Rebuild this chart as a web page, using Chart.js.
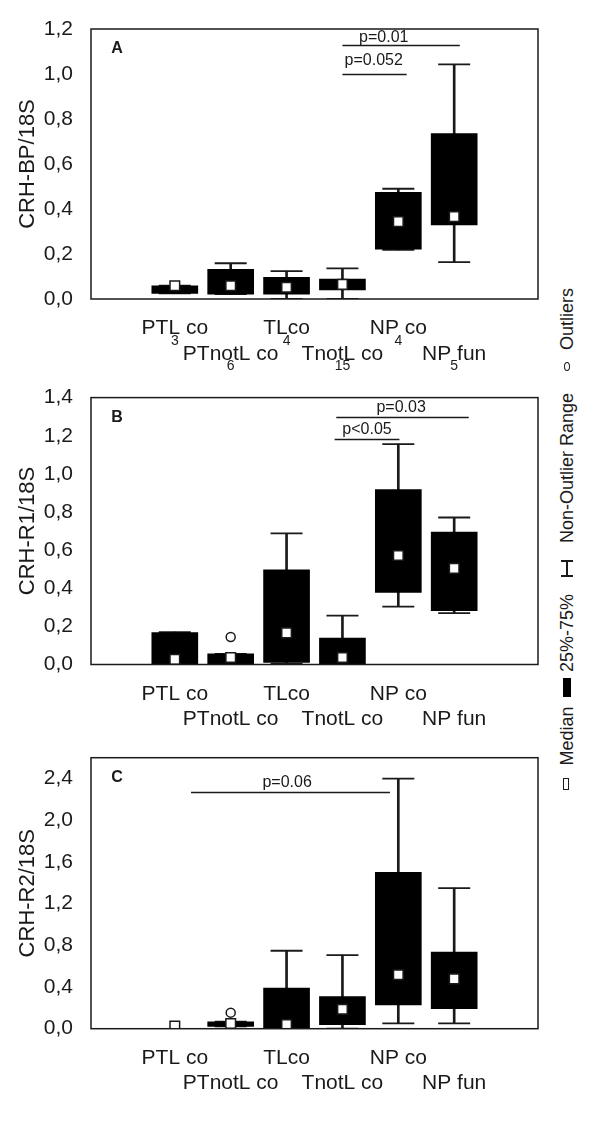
<!DOCTYPE html>
<html><head><meta charset="utf-8">
<script src="https://cdn.jsdelivr.net/npm/chart.js@4.4.1/dist/chart.umd.min.js"></script>
<style>
body{margin:0;background:#fff;width:600px;height:1136px;position:relative;overflow:hidden;font-family:"Liberation Sans",Arial,sans-serif}
canvas{position:absolute;left:0}
.lg{position:absolute;transform:translate(-50%,-50%) rotate(-90deg);white-space:nowrap;font-size:18px;color:#1a1a1a;line-height:1}
.ic{position:absolute;box-sizing:border-box}
</style></head><body>
<canvas id="cA" width="550" height="375" style="top:0px"></canvas>
<canvas id="cB" width="550" height="355" style="top:375px"></canvas>
<canvas id="cC" width="550" height="370" style="top:735px"></canvas>

<div class="lg" style="left:567px;top:319px">Outliers</div>
<div class="ic" style="left:564px;top:362px;width:6px;height:9px;border:1.5px solid #1a1a1a;border-radius:50%"></div>
<div class="lg" style="left:567px;top:468px">Non-Outlier Range</div>
<div class="ic" style="left:561px;top:560px;width:12px;height:2px;background:#1a1a1a"></div>
<div class="ic" style="left:566px;top:560px;width:2px;height:17px;background:#1a1a1a"></div>
<div class="ic" style="left:561px;top:575px;width:12px;height:2px;background:#1a1a1a"></div>
<div class="lg" style="left:567px;top:633px">25%-75%</div>
<div class="ic" style="left:563px;top:678px;width:8px;height:19px;background:#000"></div>
<div class="lg" style="left:567px;top:736px">Median</div>
<div class="ic" style="left:563px;top:778px;width:6px;height:12px;border:1.5px solid #1a1a1a;background:#fff"></div>

<script>
// ---------- data ----------
const categories = ['', 'PTL co', 'PTnotL co', 'TLco', 'TnotL co', 'NP co', 'NP fun', ''];
const sampleSizesA = ['', '3', '6', '4', '15', '4', '5', ''];
const yTicksA = [0, 0.2, 0.4, 0.6, 0.8, 1.0, 1.2];
const yTicksB = [0, 0.2, 0.4, 0.6, 0.8, 1.0, 1.2, 1.4];
const yTicksC = [0, 0.4, 0.8, 1.2, 1.6, 2.0, 2.4];

// Panel A : CRH-BP/18S
const aQ1  = [null, 0.025, 0.022, 0.021, 0.040, 0.222, 0.329, null];
const aQ3  = [null, 0.059, 0.132, 0.096, 0.089, 0.474, 0.735, null];
const aMed = [null, 0.059, 0.059, 0.052, 0.065, 0.344, 0.366, null];
const aMin = [null, 0.025, 0.022, 0.000, 0.000, 0.218, 0.164, null];
const aMax = [null, 0.059, 0.159, 0.124, 0.136, 0.490, 1.043, null];
const aOut = [null, null, null, null, null, null, null, null];
const aSigText = ['p=0.01', 'p=0.052'];
const aSigFrom = [4.0, 4.0];
const aSigTo   = [6.1, 5.15];
const aSigY    = [1.129, 0.999];
const aSigTx   = [4.74, 4.56];
const aSigTy   = [1.164, 1.058];

// Panel B : CRH-R1/18S
const bQ1  = [null, 0.000, 0.000, 0.011, 0.000, 0.378, 0.282, null];
const bQ3  = [null, 0.168, 0.056, 0.497, 0.138, 0.917, 0.695, null];
const bMed = [null, 0.027, 0.037, 0.166, 0.037, 0.572, 0.504, null];
const bMin = [null, 0.000, 0.000, 0.005, 0.000, 0.304, 0.270, null];
const bMax = [null, 0.170, 0.056, 0.688, 0.256, 1.156, 0.771, null];
const bOut = [null, null, 0.144, null, null, null, null, null];
const bSigText = ['p=0.03', 'p<0.05'];
const bSigFrom = [3.89, 3.86];
const bSigTo   = [6.26, 5.02];
const bSigY    = [1.30, 1.185];
const bSigTx   = [5.05, 4.44];
const bSigTy   = [1.348, 1.232];

// Panel C : CRH-R2/18S
const cQ1  = [null, null, 0.023, 0.000, 0.038, 0.228, 0.193, null];
const cQ3  = [null, null, 0.067, 0.389, 0.308, 1.501, 0.735, null];
const cMed = [null, 0.025, 0.050, 0.040, 0.187, 0.517, 0.478, null];
const cMin = [null, null, 0.023, 0.000, 0.000, 0.052, 0.052, null];
const cMax = [null, null, 0.067, 0.748, 0.706, 2.400, 1.348, null];
const cOut = [null, null, 0.154, null, null, null, null, null];
const cSigText = ['p=0.06'];
const cSigFrom = [1.29];
const cSigTo   = [4.85];
const cSigY    = [2.275];
const cSigTx   = [3.01];
const cSigTy   = [2.365];

// ---------- rendering ----------
const INK = '#1a1a1a';
const FONT = '"Liberation Sans", Arial, sans-serif';

const decorPlugin = {
  id: 'decor',
  afterDraw(chart, args, o) {
    const {ctx, chartArea: ca, scales} = chart;
    const x = scales.x, y = scales.y;
    ctx.save();
    ctx.strokeStyle = INK; ctx.lineWidth = 1.5;
    ctx.strokeRect(ca.left, ca.top, ca.right - ca.left, ca.bottom - ca.top);
    ctx.fillStyle = INK;
    ctx.font = 'bold 16px ' + FONT;
    ctx.textAlign = 'center'; ctx.textBaseline = 'middle';
    ctx.fillText(o.letter, ca.left + 26, ca.top + 20);
    ctx.font = '16px ' + FONT;
    ctx.lineWidth = 1.5;
    for (let i = 0; i < o.sigText.length; i++) {
      const yy = Math.round(y.getPixelForValue(o.sigY[i])) + 0.5;
      ctx.beginPath();
      ctx.moveTo(x.getPixelForValue(o.sigFrom[i]), yy);
      ctx.lineTo(x.getPixelForValue(o.sigTo[i]), yy);
      ctx.stroke();
      ctx.fillText(o.sigText[i], x.getPixelForValue(o.sigTx[i]), y.getPixelForValue(o.sigTy[i]));
    }
    if (o.sizes) {
      ctx.font = '14px ' + FONT;
      for (let i = 0; i < o.sizes.length; i++) {
        if (!o.sizes[i]) continue;
        const row = (i % 2 === 1) ? 42 : 67;
        ctx.fillText(o.sizes[i], x.getPixelForValue(i), ca.bottom + row);
      }
    }
    ctx.restore();
  }
};

function makePanel(id, cfg) {
  const boxes = cfg.q1.map((v, i) => v === null ? null : [v, cfg.q3[i]]);
  const whisk = cfg.min.map((v, i) => v === null ? null : [v, cfg.max[i]]);
  const canvas = document.getElementById(id);
  return new Chart(canvas, {
    type: 'bar',
    data: {
      labels: cfg.labels,
      datasets: [
        {type: 'line', data: cfg.med, showLine: false, pointStyle: 'rect', pointRadius: 6.8,
         pointBackgroundColor: '#fff', pointBorderColor: INK, pointBorderWidth: 1.5, order: 0},
        {type: 'line', data: cfg.out, showLine: false, pointStyle: 'circle', pointRadius: 4.5,
         pointBackgroundColor: '#fff', pointBorderColor: INK, pointBorderWidth: 1.5, order: 0},
        {type: 'bar', data: boxes, backgroundColor: '#000', borderWidth: 0, barThickness: 46,
         grouped: false, order: 1},
        {type: 'line', data: cfg.max, showLine: false, pointStyle: 'line', pointRadius: 16,
         pointBorderColor: INK, pointBorderWidth: 1.8, order: 2},
        {type: 'line', data: cfg.min, showLine: false, pointStyle: 'line', pointRadius: 16,
         pointBorderColor: INK, pointBorderWidth: 1.8, order: 2},
        {type: 'bar', data: whisk, backgroundColor: INK, borderWidth: 0, barThickness: 2,
         grouped: false, order: 3}
      ]
    },
    options: {
      responsive: false, animation: false,
      layout: {autoPadding: false, padding: {top: cfg.padTop, right: 12, left: 0, bottom: 0}},
      plugins: {
        legend: {display: false}, tooltip: {enabled: false},
        decor: {letter: cfg.letter, sigText: cfg.sigText, sigFrom: cfg.sigFrom, sigTo: cfg.sigTo,
                sigY: cfg.sigY, sigTx: cfg.sigTx, sigTy: cfg.sigTy, sizes: cfg.sizes}
      },
      scales: {
        x: {
          type: 'category', offset: true,
          grid: {display: false}, border: {display: false},
          ticks: {autoSkip: false, maxRotation: 0, minRotation: 0, padding: 9, color: INK,
                  font: {family: FONT, size: 21, lineHeight: 1.2},
                  callback: function(v, i) { const l = cfg.labels[i]; return (i % 2 === 0 && l) ? ['', l] : l; }},
          afterFit: s => { s.height = cfg.xHeight; }
        },
        y: {
          min: 0, max: cfg.yMax,
          grid: {display: false}, border: {display: false},
          ticks: {padding: 10, color: INK, font: {family: FONT, size: 21},
                  callback: v => v.toFixed(1).replace('.', ',')},
          afterBuildTicks: s => { s.ticks = cfg.yTicks.map(v => ({value: v})); },
          title: {display: true, text: cfg.yTitle, color: INK, font: {family: FONT, size: 22},
                  padding: {top: 14.5, bottom: 0}},
          afterFit: s => { s.width = 91; }
        }
      }
    },
    plugins: [decorPlugin]
  });
}

makePanel('cA', {labels: categories, q1: aQ1, q3: aQ3, med: aMed, min: aMin, max: aMax, out: aOut,
  letter: 'A', sigText: aSigText, sigFrom: aSigFrom, sigTo: aSigTo, sigY: aSigY, sigTx: aSigTx, sigTy: aSigTy,
  sizes: sampleSizesA, yMax: 1.2, yTicks: yTicksA, yTitle: 'CRH-BP/18S', padTop: 29, xHeight: 76});
makePanel('cB', {labels: categories, q1: bQ1, q3: bQ3, med: bMed, min: bMin, max: bMax, out: bOut,
  letter: 'B', sigText: bSigText, sigFrom: bSigFrom, sigTo: bSigTo, sigY: bSigY, sigTx: bSigTx, sigTy: bSigTy,
  sizes: null, yMax: 1.4, yTicks: yTicksB, yTitle: 'CRH-R1/18S', padTop: 18, xHeight: 65.5});
makePanel('cC', {labels: categories, q1: cQ1, q3: cQ3, med: cMed, min: cMin, max: cMax, out: cOut,
  letter: 'C', sigText: cSigText, sigFrom: cSigFrom, sigTo: cSigTo, sigY: cSigY, sigTx: cSigTx, sigTy: cSigTy,
  sizes: null, yMax: 2.6, yTicks: yTicksC, yTitle: 'CRH-R2/18S', padTop: 22.7, xHeight: 76.3});
</script>
</body></html>
